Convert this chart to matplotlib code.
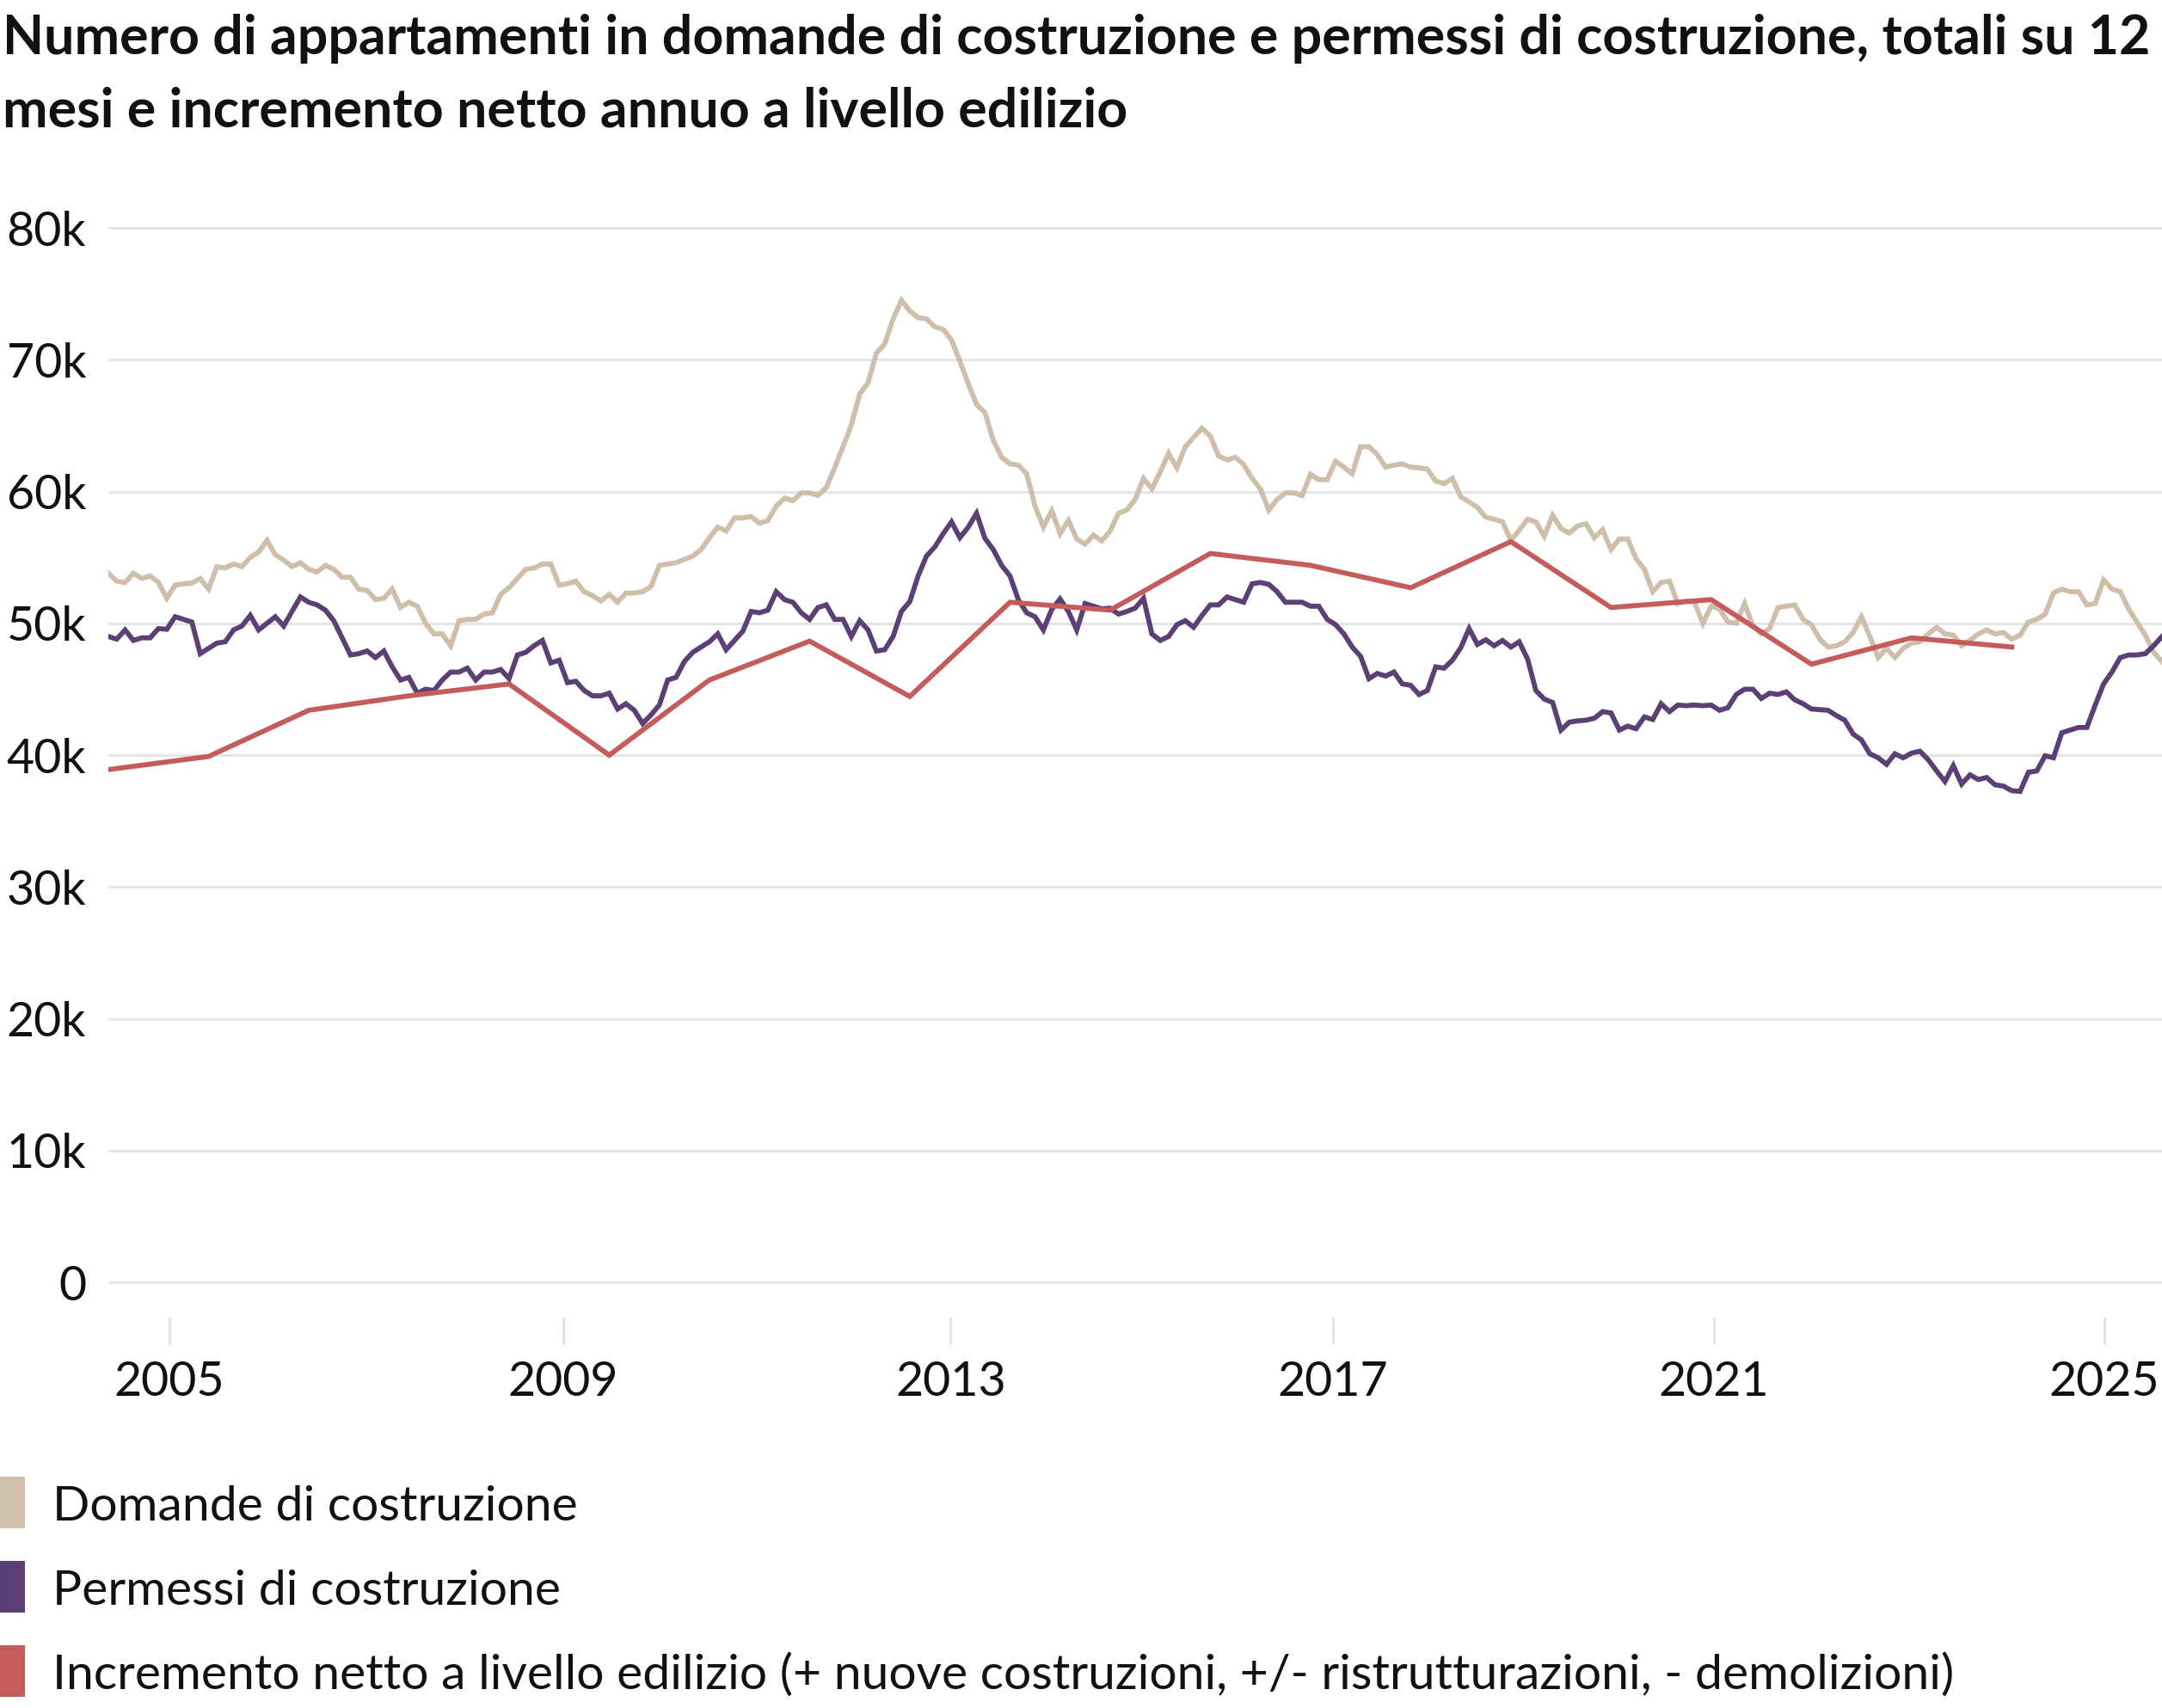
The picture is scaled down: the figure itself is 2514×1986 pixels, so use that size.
import numpy as np
import matplotlib
matplotlib.use("Agg")
import matplotlib.pyplot as plt
from matplotlib.patches import Rectangle

# ---------------- data (thousands of apartments) ----------------
# monthly rolling 12-month totals, first value at left edge of chart
domande = [
    53.8, 53.2, 53.1, 53.8, 53.4, 53.6, 53.1, 51.9, 52.9, 53.0,
    53.05, 53.4, 52.6, 54.3, 54.2, 54.5, 54.3, 55.0, 55.4, 56.3,
    55.2, 54.8, 54.3, 54.6, 54.1, 53.9, 54.4, 54.1, 53.5, 53.5,
    52.6, 52.5, 51.8, 51.9, 52.6, 51.2, 51.6, 51.3, 50.0, 49.2,
    49.2, 48.3, 50.2, 50.3, 50.3, 50.7, 50.8, 52.2, 52.7, 53.4,
    54.1, 54.2, 54.5, 54.5, 52.9, 53.0, 53.2, 52.4, 52.1, 51.7,
    52.2, 51.6, 52.3, 52.3, 52.4, 52.8, 54.4, 54.5, 54.6, 54.85,
    55.1, 55.6, 56.5, 57.3, 57.0, 58.0, 58.0, 58.1, 57.6, 57.8,
    58.9, 59.5, 59.3, 59.9, 59.9, 59.7, 60.3, 61.8, 63.4, 65.05,
    67.4, 68.25, 70.5, 71.2, 73.1, 74.5, 73.7, 73.2, 73.1, 72.5,
    72.3, 71.5, 69.9, 68.2, 66.6, 66.0, 63.9, 62.6, 62.1, 62.0,
    61.35, 58.9, 57.3, 58.55, 56.8, 57.8, 56.4, 56.0, 56.7, 56.25,
    57.0, 58.35, 58.6, 59.4, 61.0, 60.2, 61.5, 62.9, 61.8, 63.4,
    64.1, 64.8, 64.2, 62.7, 62.4, 62.6, 62.05, 61.0, 60.2, 58.6,
    59.4, 59.9, 59.9, 59.7, 61.3, 60.9, 60.9, 62.3, 61.85, 61.35,
    63.4, 63.4, 62.8, 61.85, 62.0, 62.1, 61.85, 61.8, 61.7, 60.8,
    60.6, 61.0, 59.6, 59.2, 58.8, 58.05, 57.9, 57.7, 56.3, 57.05,
    57.9, 57.7, 56.6, 58.2, 57.2, 56.85, 57.4, 57.55, 56.5, 57.1,
    55.6, 56.4, 56.4, 54.9, 54.1, 52.4, 53.1, 53.2, 51.5, 51.7,
    51.6, 50.0, 51.3, 51.1, 50.1, 50.0, 51.5, 49.8, 49.2, 49.6,
    51.2, 51.3, 51.4, 50.3, 49.9, 48.8, 48.2, 48.3, 48.6, 49.3,
    50.5, 49.0, 47.4, 48.1, 47.4, 48.1, 48.5, 48.6, 49.2, 49.7,
    49.2, 49.1, 48.3, 48.7, 49.2, 49.5, 49.2, 49.3, 48.8, 49.1,
    50.1, 50.3, 50.7, 52.3, 52.6, 52.4, 52.4, 51.4, 51.5, 53.3,
    52.6, 52.4, 51.1, 50.1, 49.1, 47.8, 47.1,
]

permessi = [
    49.0, 48.8, 49.5, 48.7, 48.9, 48.9, 49.6, 49.55, 50.5, 50.3,
    50.1, 47.7, 48.1, 48.5, 48.6, 49.5, 49.8, 50.6, 49.5, 50.0,
    50.5, 49.8, 50.9, 52.0, 51.6, 51.4, 51.0, 50.2, 48.9, 47.6,
    47.7, 47.9, 47.4, 47.9, 46.7, 45.7, 45.9, 44.7, 45.0, 44.9,
    45.7, 46.3, 46.3, 46.6, 45.7, 46.3, 46.3, 46.5, 45.8, 47.6,
    47.8, 48.3, 48.7, 47.0, 47.2, 45.5, 45.6, 44.9, 44.5, 44.5,
    44.7, 43.5, 43.9, 43.4, 42.4, 43.05, 43.8, 45.7, 45.9, 47.1,
    47.8, 48.2, 48.6, 49.2, 48.0, 48.7, 49.4, 50.9, 50.8, 51.0,
    52.4, 51.8, 51.6, 50.8, 50.3, 51.2, 51.4, 50.3, 50.3, 49.0,
    50.2, 49.5, 47.9, 48.0, 49.0, 50.9, 51.65, 53.6, 55.1, 55.8,
    56.8, 57.7, 56.5, 57.3, 58.35, 56.45, 55.6, 54.4, 53.6, 51.8,
    50.8, 50.5, 49.5, 51.05, 51.85, 50.9, 49.5, 51.5, 51.3, 51.1,
    51.15, 50.7, 50.9, 51.15, 51.9, 49.2, 48.7, 49.0, 49.9, 50.2,
    49.7, 50.6, 51.4, 51.4, 52.0, 51.8, 51.6, 53.0, 53.1, 52.96,
    52.4, 51.6, 51.6, 51.6, 51.3, 51.3, 50.3, 49.9, 49.2, 48.2,
    47.5, 45.8, 46.2, 46.0, 46.3, 45.4, 45.3, 44.6, 44.9, 46.7,
    46.6, 47.2, 48.15, 49.6, 48.4, 48.75, 48.3, 48.7, 48.2, 48.6,
    47.3, 44.9, 44.25, 44.0, 41.9, 42.5, 42.6, 42.65, 42.8, 43.3,
    43.2, 41.9, 42.2, 42.0, 42.9, 42.7, 43.9, 43.3, 43.8, 43.75,
    43.8, 43.75, 43.8, 43.4, 43.6, 44.6, 45.0, 45.0, 44.3, 44.7,
    44.6, 44.8, 44.2, 43.9, 43.5, 43.45, 43.4, 43.0, 42.65, 41.6,
    41.15, 40.1, 39.8, 39.3, 40.1, 39.8, 40.15, 40.3, 39.65, 38.8,
    38.0, 39.2, 37.8, 38.5, 38.15, 38.3, 37.75, 37.65, 37.3, 37.25,
    38.7, 38.8, 39.95, 39.8, 41.7, 41.9, 42.1, 42.1, 43.8, 45.4,
    46.3, 47.4, 47.6, 47.6, 47.7, 48.3, 49.0,
]

# annual net increment, one value every 12 months from the left edge
incremento = [38.9, 39.9, 43.4, 44.5, 45.4, 40.0, 45.7, 48.65, 44.45, 51.6,
              51.0, 55.3, 54.4, 52.7, 56.2, 51.2, 51.8, 46.9, 48.9, 48.2]

tick_years = ["2005", "2009", "2013", "2017", "2021", "2025"]
tick_pos_months = [7.3, 54.5, 100.9, 146.7, 192.3, 239.1]
y_ticks = [0, 10, 20, 30, 40, 50, 60, 70, 80]
y_labels = ["0", "10k", "20k", "30k", "40k", "50k", "60k", "70k", "80k"]

series_names = ["Domande di costruzione",
                "Permessi di costruzione",
                "Incremento netto a livello edilizio (+ nuove costruzioni, +/- ristrutturazioni, - demolizioni)"]
colors = ["#cfbea9", "#5c3f75", "#c55c5c"]

title_lines = ["Numero di appartamenti in domande di costruzione e permessi di costruzione, totali su 12",
               "mesi e incremento netto annuo a livello edilizio"]

# ---------------- figure ----------------
FONT = "Lato"
plt.rcParams["font.family"] = [FONT, "DejaVu Sans"]

W, H = 2514, 1986
fig = plt.figure(figsize=(W / 100, H / 100), dpi=100)
fig.patch.set_facecolor("white")

ax_left, ax_right, ax_top, ax_bottom = 126, 2514, 260, 1532
ax = fig.add_axes([ax_left / W, 1 - ax_bottom / H, (ax_right - ax_left) / W, (ax_bottom - ax_top) / H])

x_m = np.arange(len(domande))
x_p = np.arange(len(permessi))
x_i = np.arange(len(incremento)) * 12

lw = 4.2
ax.plot(x_m, np.array(domande) * 1000, color=colors[0], lw=lw, zorder=3, solid_joinstyle="miter")
ax.plot(x_p, np.array(permessi) * 1000, color=colors[1], lw=lw, zorder=4, solid_joinstyle="miter")
ax.plot(x_i, np.array(incremento) * 1000, color=colors[2], lw=lw, zorder=5, solid_joinstyle="miter")

ax.set_xlim(0, 246.0)
ax.set_ylim(-2675, 80330)

ax.set_yticks([v * 1000 for v in y_ticks])
ax.set_yticklabels(y_labels)
ax.set_xticks(tick_pos_months)
ax.set_xticklabels(tick_years)

ax.yaxis.grid(True, color="#e5e5e5", lw=2.2, zorder=0)
ax.xaxis.grid(False)
ax.set_axisbelow(True)
for s in ax.spines.values():
    s.set_visible(False)

ax.tick_params(axis="y", length=0, pad=18.5, labelsize=40, labelcolor="#111111")
ax.tick_params(axis="x", length=22.3, width=2.0, color="#e0e0e0", direction="out",
               pad=13.5, labelsize=40, labelcolor="#111111")

# ---------------- title ----------------
t1 = fig.text(3 / W, 1 - 63 / H, title_lines[0], fontsize=44, fontweight="bold",
              color="#111111", ha="left", va="baseline")
t2 = fig.text(3 / W, 1 - 147 / H, title_lines[1], fontsize=44, fontweight="bold",
              color="#111111", ha="left", va="baseline")
renderer = fig.canvas.get_renderer()
w1 = t1.get_window_extent(renderer).width
fs = 44 * 2495 / w1
t1.set_fontsize(fs)
t2.set_fontsize(fs)

# ---------------- legend ----------------
row_baselines = [1768, 1866, 1964]
for name, col, base in zip(series_names, colors, row_baselines):
    cy = base - 21
    fig.patches.append(Rectangle((0, 1 - (cy + 30) / H), 29 / W, 60 / H,
                                 transform=fig.transFigure, facecolor=col,
                                 edgecolor="none"))
    fig.text(61 / W, 1 - base / H, name, fontsize=41, color="#111111",
             ha="left", va="baseline")

fig.savefig("out.png", dpi=100, facecolor="white")
